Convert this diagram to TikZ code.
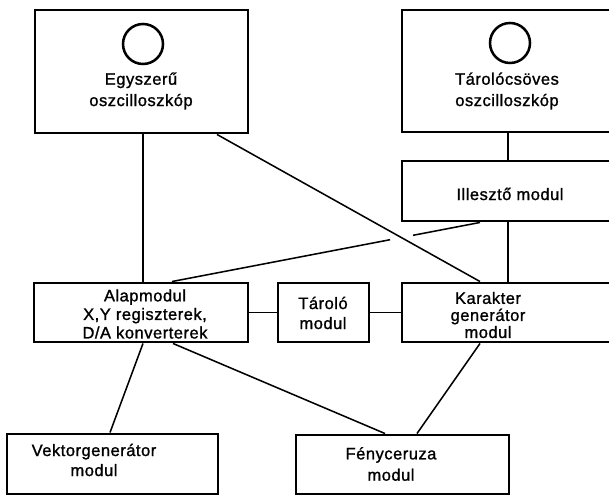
\documentclass[tikz,border=0pt]{standalone}
\usepackage{fontspec}
\setmainfont{Liberation Sans}[LetterSpace=3,FakeBold=1.2]
\usetikzlibrary{fit,calc}
\begin{document}
\begin{tikzpicture}[x=0.75pt,y=-0.75pt,
  box/.style={draw, line width=2.2pt, inner sep=0pt},
  conn/.style={line width=1.15pt},
  lbl/.style={inner sep=0pt, align=center, font=\fontsize{12.4pt}{15pt}\selectfont},
  tube/.style={circle, draw, line width=1.9pt, minimum size=30pt, inner sep=0pt}]
\clip (0,0) rectangle (609,495);
% boxes
\node[box, fit={(35,10) (248,133)}] (e1) {};
\node[box, fit={(402,10) (616,132)}] (e2) {};
\node[box, fit={(402,161) (616,221)}] (ill) {};
\node[box, fit={(34,283) (248,342)}] (alap) {};
\node[box, fit={(278,283) (369,342)}] (tar) {};
\node[box, fit={(402,283) (616,342)}] (kar) {};
\node[box, fit={(7,434) (218,494)}] (vek) {};
\node[box, fit={(296,435) (509,494)}] (feny) {};
% tubes
\node[tube] (c1) at (143,44) {};
\node[tube] (c2) at (510,43) {};
% labels
\node[lbl, font=\fontsize{12.4pt}{16pt}\selectfont] (t1) at (141,91) {Egyszerű\\oszcilloszkóp};
\node[lbl, font=\fontsize{12.4pt}{16pt}\selectfont] (t2) at (507,91) {Tárolócsöves\\oszcilloszkóp};
\node[lbl] (t3) at (510,194) {Illesztő modul};
\node[lbl, font=\fontsize{12.4pt}{13.9pt}\selectfont] (t4) at (145,314) {Alapmodul\\X,Y regiszterek,\\D/A konverterek};
\node[lbl] (t5) at (323,313) {Tároló\\modul};
\node[lbl, font=\fontsize{12.4pt}{12.8pt}\selectfont] (t6) at (488,315) {Karakter\\generátor\\modul};
\node[lbl] (t7) at (94,460) {Vektorgenerátor\\modul};
\node[lbl, font=\fontsize{12.4pt}{16pt}\selectfont] (t8) at (391,464) {Fényceruza\\modul};
% connectors
\coordinate (ia) at (ill.south -| 480,0);
\coordinate (ai) at (alap.north -| 172,0);
\draw[conn] (e1.south -| 143,0) -- (alap.north -| 143,0);
\draw[conn] (e1.south -| 217,0) -- (kar.north -| 480,0);
\draw[conn] (e2.south -| 508,0) -- (ill.north -| 508,0);
\draw[conn] (ill.south -| 508,0) -- (kar.north -| 508,0);
\draw[conn] (ia) -- ($(ia)!0.2175!(ai)$);
\draw[conn] ($(ia)!0.292!(ai)$) -- (ai);
\draw[conn] (alap.east) -- (tar.west);
\draw[conn] (tar.east) -- (kar.west -| 402,0);
\draw[conn] (alap.south -| 143,0) -- (vek.north -| 110,0);
\draw[conn] (alap.south -| 173,0) -- (feny.north -| 385,0);
\draw[conn] (kar.south -| 480,0) -- (feny.north -| 417,0);
\end{tikzpicture}
\end{document}
